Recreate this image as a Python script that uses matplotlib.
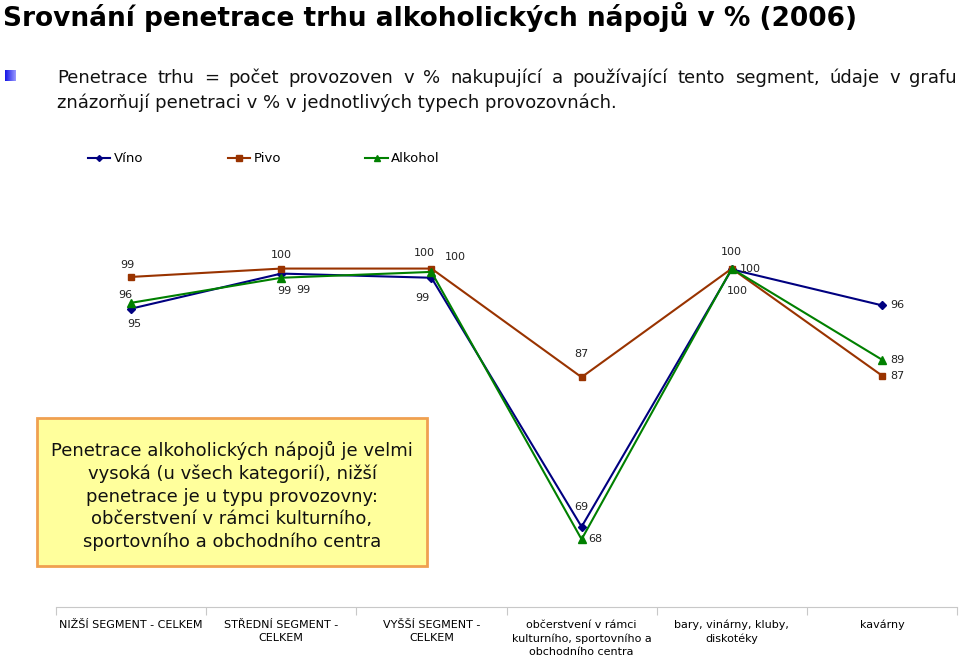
import numpy as np
import matplotlib
matplotlib.use("Agg")
import matplotlib.pyplot as plt
from matplotlib.lines import Line2D
from matplotlib.patches import Rectangle

# --- data ---
categories = [
    "NIŽŠÍ SEGMENT - CELKEM",
    "STŘEDNÍ SEGMENT -\nCELKEM",
    "VYŠŠÍ SEGMENT -\nCELKEM",
    "občerstvení v rámci\nkulturního, sportovního a\nobchodního centra",
    "bary, vinárny, kluby,\ndiskotéky",
    "kavárny",
]
vino = [95.2, 99.4, 98.9, 69.1, 99.9, 95.6]
pivo = [99.0, 100.0, 100.0, 87.0, 100.0, 87.2]
alkohol = [95.9, 98.9, 99.6, 67.6, 100.0, 89.1]

# --- label offsets (pixels) ---
off_vino = [(3, -15), (3, -17), (-9, -20), (0, 20), (19, 0), (15, 0)]
off_pivo = [(-4, 12), (0, 14), (-7, 16), (0, 23), (0, 17), (15, 0)]
off_alk = [(-6, 8), (22, -12), (24, 15), (14, 0), (6, -22), (15, 0)]

series = [
    ("Víno", vino, "#000080", "D", 4, off_vino),
    ("Pivo", pivo, "#993300", "s", 5, off_pivo),
    ("Alkohol", alkohol, "#008000", "^", 6, off_alk),
]

fig = plt.figure(figsize=(9.6, 6.62), dpi=100)
W, H = 960, 662

def fx(px):
    return px / W

def fy(py):
    return 1 - py / H

# --- title and subtitle ---
fig.text(fx(3), fy(17), "Srovnání penetrace trhu alkoholických nápojů v % (2006)",
         fontsize=19, fontweight="bold", va="center", ha="left", color="black")

# first line is justified between x=57 and x=957
renderer = fig.canvas.get_renderer()
line1 = "Penetrace trhu = počet provozoven v % nakupující a používající tento segment, údaje v grafu"
words = line1.split()
objs = [fig.text(0, fy(78), w, fontsize=13, va="center", ha="left", color="#111111")
        for w in words]
widths = [o.get_window_extent(renderer).width for o in objs]
gap = (957 - 57 - sum(widths)) / (len(words) - 1)
xpos = 57
for o, w in zip(objs, widths):
    o.set_x(fx(xpos))
    xpos += w + gap

fig.text(fx(57), fy(103), "znázorňují penetraci v % v jednotlivých typech provozovnách.",
         fontsize=13, va="center", ha="left", color="#111111")

# bullet square with gradient
bax = fig.add_axes([fx(5), fy(81), fx(11), 11 / H])
grad = np.linspace(0, 1, 50).reshape(1, -1)
bax.imshow(grad, cmap=matplotlib.colors.LinearSegmentedColormap.from_list(
    "b", ["#1414e6", "#9a9aff"]), aspect="auto")
bax.axis("off")

# --- main plot ---
ax = fig.add_axes([fx(56), fy(607), fx(901), (607 - 185) / H])
x = np.arange(len(categories))

for name, vals, col, mk, ms, offs in series:
    ax.plot(x, vals, color=col, marker=mk, markersize=ms, linewidth=1.5,
            markeredgecolor=col, label=name)
    for xi, v, (dx, dy) in zip(x, vals, offs):
        ax.annotate(f"{v:.0f}", (xi, v), xytext=(dx, dy), textcoords="offset pixels",
                    ha="center", va="center", fontsize=8, color="#222222")

ax.set_xlim(-0.5, len(categories) - 0.5)
ax.set_ylim(59.5, 110)
ax.set_yticks([])
for s in ["top", "right", "left"]:
    ax.spines[s].set_visible(False)
ax.spines["bottom"].set_color("#c8c8c8")
ax.set_xticks(np.arange(-0.5, len(categories), 1.0), minor=False)
ax.set_xticklabels([""] * (len(categories) + 1))
ax.tick_params(axis="x", which="major", length=6, color="#c8c8c8", direction="out")
ax.set_xticks(x, minor=True)
ax.set_xticklabels(categories, minor=True, fontsize=8, va="top", linespacing=1.45)
ax.tick_params(axis="x", which="minor", length=0, pad=9)

# legend
handles = [Line2D([0], [0], color=c, marker=m, markersize=ms - 1, linewidth=1.5)
           for _, _, c, m, ms, _ in series]
fig.legend(handles, [s[0] for s in series], loc="center left",
           bbox_to_anchor=(fx(88), fy(159)), ncol=3, frameon=False,
           borderpad=0, borderaxespad=0,
           fontsize=9.5, handlelength=1.7, handletextpad=0.25, columnspacing=6.4)

# --- yellow comment box ---
fig.patches.append(Rectangle((fx(37), fy(566)), fx(390), (566 - 418) / H,
                             transform=fig.transFigure, facecolor="#ffff9c",
                             edgecolor="#f0a050", linewidth=2, zorder=5))
fig.text(fx(232), fy(496),
         "Penetrace alkoholických nápojů je velmi\nvysoká (u všech kategorií), nižší\n"
         "penetrace je u typu provozovny:\nobčerstvení v rámci kulturního,\n"
         "sportovního a obchodního centra",
         ha="center", va="center", fontsize=13, linespacing=1.33, color="#111111", zorder=6)

plt.savefig("out.png", dpi=100)
